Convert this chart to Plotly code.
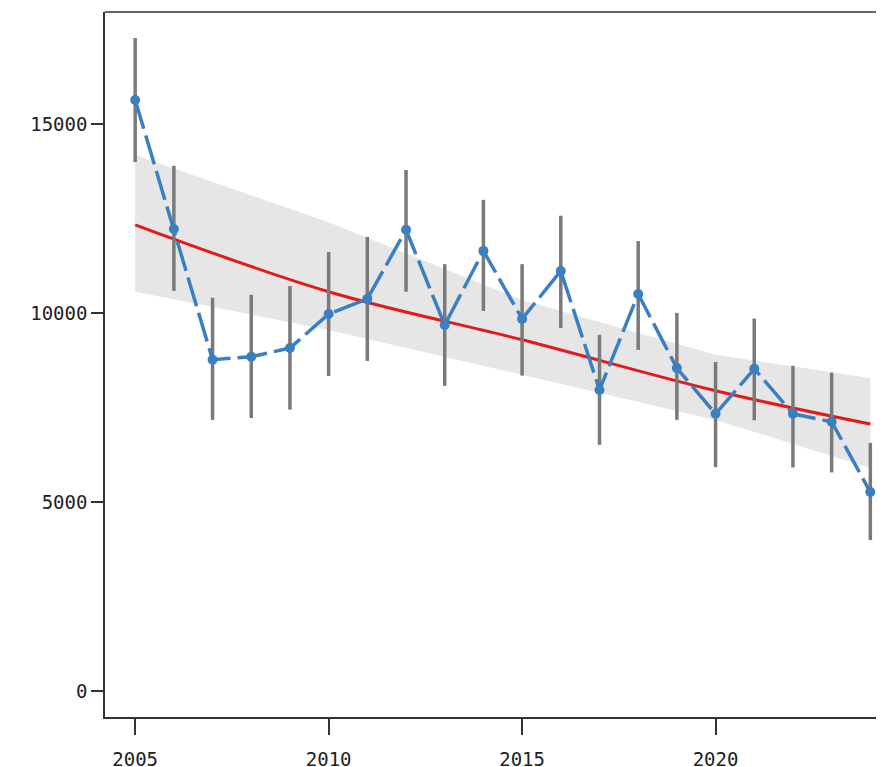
import plotly.graph_objects as go

years = list(range(2005, 2025))
values = [15630, 12220, 8760, 8840, 9070, 9970, 10370, 12200, 9680, 11640,
          9840, 11110, 7960, 10500, 8540, 7330, 8520, 7330, 7120, 5260]
upper = [17270, 13890, 10400, 10480, 10710, 11610, 12010, 13780, 11290, 12990,
         11290, 12570, 9420, 11900, 10000, 8700, 9850, 8600, 8420, 6560]
lower = [13990, 10580, 7170, 7220, 7440, 8330, 8730, 10560, 8070, 10050,
         8340, 9600, 6510, 9020, 7170, 5920, 7160, 5910, 5780, 3990]

trend_years = [2005, 2010, 2015, 2020, 2024]
trend = [12330, 10560, 9290, 7940, 7060]
band_hi = [14180, 12400, 10340, 8890, 8280]
band_lo = [10560, 9550, 8360, 7170, 5900]

y_ticks = [0, 5000, 10000, 15000]
x_ticks = [2005, 2010, 2015, 2020]

fig = go.Figure()

fig.add_trace(go.Scatter(x=trend_years + trend_years[::-1], y=band_hi + band_lo[::-1],
                         mode='lines', fill='toself', fillcolor='#e6e6e6',
                         line=dict(width=0, color='#e6e6e6'),
                         hoverinfo='skip', showlegend=False))
fig.add_trace(go.Scatter(x=trend_years, y=trend, mode='lines', line_shape='spline',
                         line=dict(color='#e3191c', width=3), showlegend=False))

# error bars as grey vertical lines
ex, ey = [], []
for yr, lo, hi in zip(years, lower, upper):
    ex += [yr, yr, None]
    ey += [lo, hi, None]
fig.add_trace(go.Scatter(x=ex, y=ey, mode='lines', line=dict(color='#7a7a7a', width=3.5),
                         showlegend=False))

fig.add_trace(go.Scatter(x=years, y=values, mode='lines+markers',
                         line=dict(color='#3a7fc1', width=3.5, dash='30px,7px'),
                         marker=dict(color='#3a7fc1', size=10), showlegend=False))

fig.update_layout(
    width=884, height=767, margin=dict(l=97, r=0, t=4, b=58),
    plot_bgcolor='white', paper_bgcolor='white',
    font=dict(family='DejaVu Sans Mono', size=19, color='#222'),
)
fig.update_xaxes(range=[2004.22, 2024.56], tickvals=x_ticks,
                 ticktext=[str(v) for v in x_ticks], automargin=False,
                 showgrid=False, zeroline=False, showline=True, linecolor='#333',
                 linewidth=1.5, ticks='outside', ticklen=16, ticklabelstandoff=8,
                 tickcolor='#333', tickwidth=1.5)
fig.update_yaxes(range=[-690, 17960], tickvals=y_ticks,
                 ticktext=[str(v) for v in y_ticks], automargin=False,
                 showgrid=False, zeroline=False, showline=True, linecolor='#333',
                 linewidth=1.5, ticks='outside', ticklen=12, tickcolor='#333',
                 tickwidth=1.5)
# top border
fig.add_shape(type='line', xref='paper', yref='paper', x0=0, x1=1, y0=1, y1=1,
              line=dict(color='#333', width=1.5))

fig.write_html("out.html")
